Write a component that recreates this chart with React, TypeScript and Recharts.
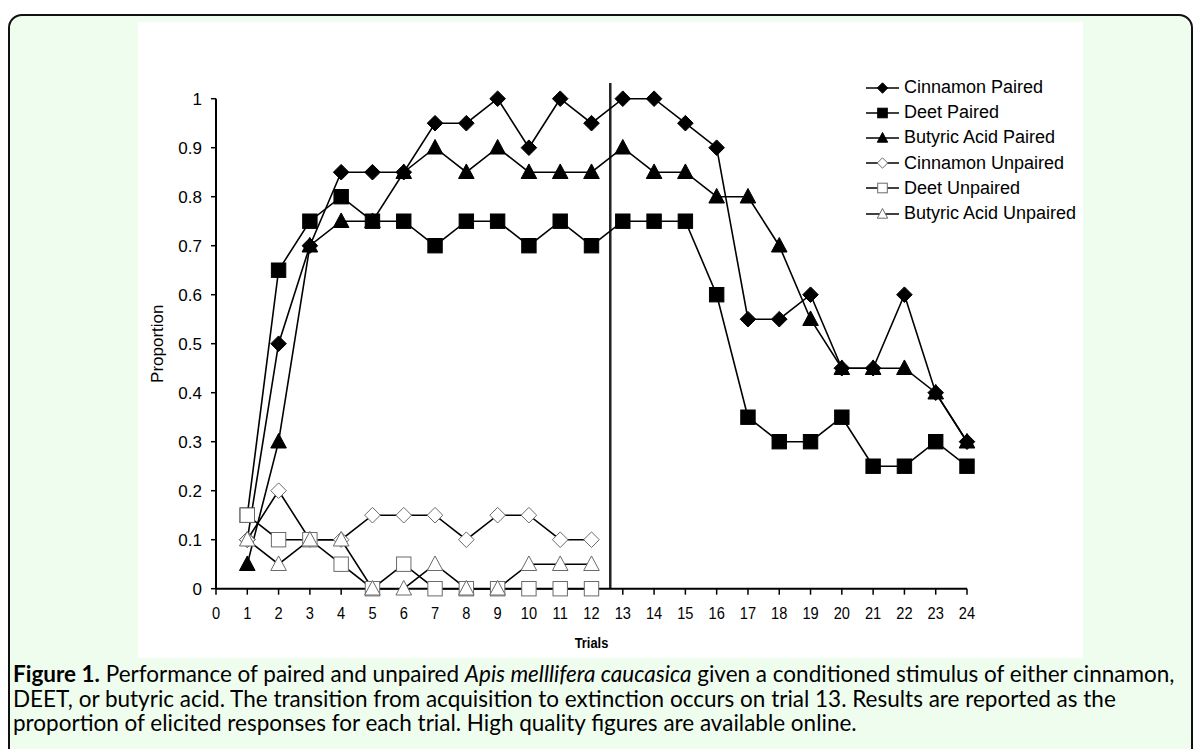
import React from 'react';
import { LineChart, Line, XAxis, YAxis, ReferenceLine, Legend } from 'recharts';

const trials = [1, 2, 3, 4, 5, 6, 7, 8, 9, 10, 11, 12, 13, 14, 15, 16, 17, 18, 19, 20, 21, 22, 23, 24];
const cinnamonPaired = [0.1, 0.5, 0.7, 0.85, 0.85, 0.85, 0.95, 0.95, 1, 0.9, 1, 0.95, 1, 1, 0.95, 0.9, 0.55, 0.55, 0.6, 0.45, 0.45, 0.6, 0.4, 0.3];
const deetPaired = [0.15, 0.65, 0.75, 0.8, 0.75, 0.75, 0.7, 0.75, 0.75, 0.7, 0.75, 0.7, 0.75, 0.75, 0.75, 0.6, 0.35, 0.3, 0.3, 0.35, 0.25, 0.25, 0.3, 0.25];
const butyricPaired = [0.05, 0.3, 0.7, 0.75, 0.75, 0.85, 0.9, 0.85, 0.9, 0.85, 0.85, 0.85, 0.9, 0.85, 0.85, 0.8, 0.8, 0.7, 0.55, 0.45, 0.45, 0.45, 0.4, 0.3];
const cinnamonUnpaired = [0.1, 0.2, 0.1, 0.1, 0.15, 0.15, 0.15, 0.1, 0.15, 0.15, 0.1, 0.1];
const deetUnpaired = [0.15, 0.1, 0.1, 0.05, 0, 0.05, 0, 0, 0, 0, 0, 0];
const butyricUnpaired = [0.1, 0.05, 0.1, 0.1, 0, 0, 0.05, 0, 0, 0.05, 0.05, 0.05];

const xTicks = [0, 1, 2, 3, 4, 5, 6, 7, 8, 9, 10, 11, 12, 13, 14, 15, 16, 17, 18, 19, 20, 21, 22, 23, 24];
const yTicks = [0, 0.1, 0.2, 0.3, 0.4, 0.5, 0.6, 0.7, 0.8, 0.9, 1];
const transitionTrial = 12.6;

const series = [
  { key: 'cp', name: 'Cinnamon Paired', shape: 'diamond', filled: true },
  { key: 'dp', name: 'Deet Paired', shape: 'square', filled: true },
  { key: 'bp', name: 'Butyric Acid Paired', shape: 'triangle', filled: true },
  { key: 'cu', name: 'Cinnamon Unpaired', shape: 'diamond', filled: false },
  { key: 'du', name: 'Deet Unpaired', shape: 'square', filled: false },
  { key: 'bu', name: 'Butyric Acid Unpaired', shape: 'triangle', filled: false },
];

const data = trials.map((t, i) => ({
  trial: t,
  cp: cinnamonPaired[i],
  dp: deetPaired[i],
  bp: butyricPaired[i],
  cu: cinnamonUnpaired[i] ?? null,
  du: deetUnpaired[i] ?? null,
  bu: butyricUnpaired[i] ?? null,
}));

const FONT = 'Arial, "Liberation Sans", sans-serif';

function shapeEl(shape: string, filled: boolean, cx: number, cy: number, s: number, key?: any) {
  const fill = filled ? '#000' : '#fff';
  const stroke = filled ? '#000' : '#6a6a6a';
  if (shape === 'diamond') {
    const r = s * 0.52;
    return <polygon key={key} points={`${cx},${cy - r} ${cx + r},${cy} ${cx},${cy + r} ${cx - r},${cy}`} fill={fill} stroke={stroke} strokeWidth={1} />;
  }
  if (shape === 'square') {
    const h = s * 0.48;
    return <rect key={key} x={cx - h} y={cy - h} width={h * 2} height={h * 2} fill={fill} stroke={stroke} strokeWidth={1} />;
  }
  const w = s * 0.52;
  return <polygon key={key} points={`${cx},${cy - s * 0.55} ${cx + w},${cy + s * 0.42} ${cx - w},${cy + s * 0.42}`} fill={fill} stroke={stroke} strokeWidth={1} />;
}

const makeDot = (shape: string, filled: boolean) => (p: any) => {
  const { cx, cy, index } = p;
  if (cx == null || cy == null || p.value == null) return <g key={index} />;
  return shapeEl(shape, filled, cx, cy, 15, index);
};

const XTick = (p: any) => {
  const { x, y, payload } = p;
  return (
    <text x={x} y={y} dy="0.71em" textAnchor="middle" fontSize={17} fontFamily={FONT} fill="#000"
      transform={`translate(${x} 0) scale(0.86 1) translate(${-x} 0)`}>
      {payload.value}
    </text>
  );
};

const YTitle = (p: any) => {
  const vb = p.viewBox;
  const cx = 20;
  const cy = vb.y + vb.height / 2;
  return (
    <text x={cx} y={cy} transform={`rotate(-90 ${cx} ${cy})`} textAnchor="middle" dominantBaseline="central"
      fontSize={17} fontFamily={FONT} fill="#000">
      Proportion
    </text>
  );
};

const XTitle = (p: any) => {
  const vb = p.viewBox;
  const cx = vb.x + vb.width / 2;
  const cy = 621;
  return (
    <text x={cx} y={cy} textAnchor="middle" dominantBaseline="central" fontSize={15} fontWeight="bold"
      fontFamily={FONT} fill="#000" transform={`translate(${cx} 0) scale(0.86 1) translate(${-cx} 0)`}>
      Trials
    </text>
  );
};

const LegendBox = () => (
  <div style={{ fontFamily: FONT, fontSize: 18, color: '#000' }}>
    {series.map((s) => (
      <div key={s.key} style={{ display: 'flex', alignItems: 'center', height: 25.2 }}>
        <svg width={34} height={16} style={{ marginRight: 4 }}>
          <line x1={0} y1={8} x2={33} y2={8} stroke="#000" strokeWidth={1.5} />
          {shapeEl(s.shape, s.filled, 16.5, 8, 10)}
        </svg>
        <span style={{ whiteSpace: 'nowrap' }}>{s.name}</span>
      </div>
    ))}
  </div>
);

export default function App() {
  return (
    <div style={{ position: 'absolute', left: 0, top: 0, width: 1200, height: 749, overflow: 'hidden', background: '#fff' }}>
      <div style={{ position: 'absolute', left: 8, top: 14, width: 1181, height: 800, border: '2px solid #111', borderRadius: 14, background: '#effdef' }} />
      <div style={{ position: 'absolute', left: 138, top: 22, width: 945, height: 636, background: '#fff' }}>
        <LineChart width={945} height={636} data={data} margin={{ top: 76.7, right: 116, bottom: 29.3, left: 18 }}>
          <XAxis type="number" dataKey="trial" domain={[0, 24]} ticks={xTicks} interval={0} allowDecimals={false}
            axisLine={{ stroke: '#000', strokeWidth: 2 }} tickLine={{ stroke: '#000', strokeWidth: 1.5 }}
            tickSize={6} tickMargin={12} height={40} tick={<XTick />} label={<XTitle />} />
          <YAxis domain={[0, 1]} ticks={yTicks} interval={0} width={60}
            axisLine={{ stroke: '#000', strokeWidth: 2 }} tickLine={{ stroke: '#000', strokeWidth: 1.5 }}
            tickSize={5} tickMargin={9} tick={{ fontSize: 17, fontFamily: FONT, fill: '#000' }}
            label={<YTitle />} />
          <ReferenceLine segment={[{ x: transitionTrial, y: 0 }, { x: transitionTrial, y: 1.032 }]} ifOverflow="visible"
            stroke="#222" strokeWidth={2.5} />
          <Legend layout="vertical" align="center" verticalAlign="middle" content={<LegendBox />}
            wrapperStyle={{ left: 728, top: 53, width: 210 }} />
          {series.map((s) => (
            <Line key={s.key} dataKey={s.key} name={s.name} stroke="#000" strokeWidth={1.6} type="linear"
              dot={makeDot(s.shape, s.filled)} activeDot={false} isAnimationActive={false} connectNulls={false} />
          ))}
        </LineChart>
      </div>
      <div style={{ position: 'absolute', left: 13, top: 662, width: 1180, fontFamily: 'Lato, sans-serif', fontSize: 22.5, lineHeight: '24.5px', color: '#000', whiteSpace: 'nowrap' }}>
        <b>Figure 1.</b> Performance of paired and unpaired <i>Apis melllifera caucasica</i> given a conditioned stimulus of either cinnamon,<br />
        DEET, or butyric acid. The transition from acquisition to extinction occurs on trial 13. Results are reported as the<br />
        proportion of elicited responses for each trial. High quality figures are available online.
      </div>
    </div>
  );
}
